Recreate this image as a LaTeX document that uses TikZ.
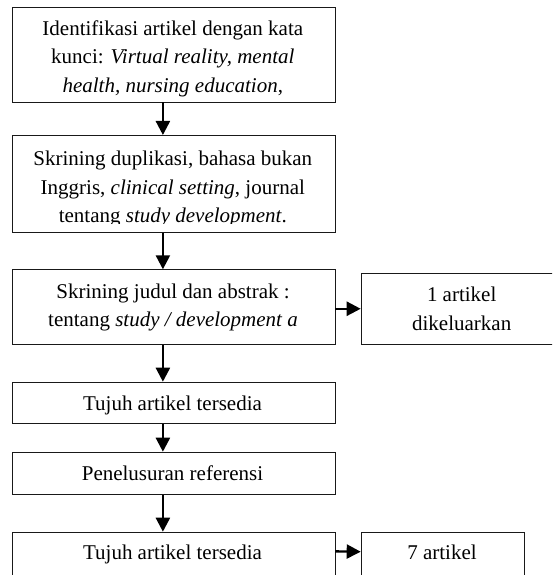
\documentclass[tikz,border=0pt]{standalone}
\usepackage{fontspec}
\setmainfont{Liberation Serif}
\usetikzlibrary{arrows.meta}
\begin{document}
\begin{tikzpicture}[x=1pt,y=1pt,
  box/.style={draw=black!90, line width=0.8pt, rectangle, anchor=north west, inner sep=0pt},
  txt/.style={anchor=base, align=center, inner sep=0pt, font=\fontsize{21}{28.3}\selectfont},
  arr/.style={line width=2.4pt, -{Triangle[width=14pt,length=14pt]}}]
\clip (0,0) rectangle (552,-575);
\useasboundingbox (0,0) rectangle (552,-575);
% boxes
\node[box, minimum width=322.8pt, minimum height=94.4pt] (b1) at (11.7,-7.3) {};
\node[box, minimum width=322.8pt, minimum height=96.7pt] (b2) at (11.7,-135) {};
\node[box, minimum width=322.8pt, minimum height=75pt] (b3) at (11.7,-269.3) {};
\node[box, minimum width=202pt, minimum height=71.3pt] (r1) at (360.7,-272.7) {};
\node[box, minimum width=322.8pt, minimum height=41pt] (b4) at (11.7,-381.7) {};
\node[box, minimum width=322.8pt, minimum height=42.6pt] (b5) at (11.7,-451.7) {};
\node[box, minimum width=322.8pt, minimum height=60pt] (b6) at (11.7,-531.7) {};
\node[box, minimum width=163.3pt, minimum height=60pt] (r2) at (360.7,-532) {};
% texts (base anchor = baseline of last line)
\node[txt] (t1) at (172.8,-92.3) {Identifikasi artikel dengan kata\\kunci: \textit{Virtual reality, mental}\\\textit{health, nursing education},};
\begin{scope}
\clip (11.7,-135) rectangle (334.5,-223.4);
\node[txt] (t2) at (172.8,-222.3) {Skrining duplikasi, bahasa bukan\\Inggris, \textit{clinical setting}, journal\\tentang \textit{study development}.};
\end{scope}
\node[txt] (t3) at (173,-326.5) {Skrining judul dan abstrak :\\tentang \textit{study / development a}};
\node[txt] (r1t) at (461.7,-330) {1 artikel\\dikeluarkan};
\node[txt] (t4) at (172.5,-410) {Tujuh artikel tersedia};
\node[txt] (t5) at (172.5,-480) {Penelusuran referensi};
\node[txt] (t6) at (172.5,-559) {Tujuh artikel tersedia};
\node[txt] (r2t) at (442,-559) {7 artikel};
% arrows
\draw[arr] ([xshift=-10.6pt]b1.south) -- ([xshift=-10.6pt]b2.north);
\draw[arr] ([xshift=-10.6pt]b2.south) -- ([xshift=-10.6pt]b3.north);
\draw[arr] ([xshift=-10.6pt]b3.south) -- ([xshift=-10.6pt]b4.north);
\draw[arr] ([xshift=-10.6pt]b4.south) -- ([xshift=-10.6pt]b5.north);
\draw[arr] ([xshift=-10.6pt]b5.south) -- ([xshift=-10.6pt]b6.north);
\draw[arr] (b3.east |- r1.west) -- (r1.west);
\draw[arr] ([yshift=-19.7pt]b6.north east) -- ([yshift=-19.7pt]r2.north west);
\end{tikzpicture}
\end{document}
